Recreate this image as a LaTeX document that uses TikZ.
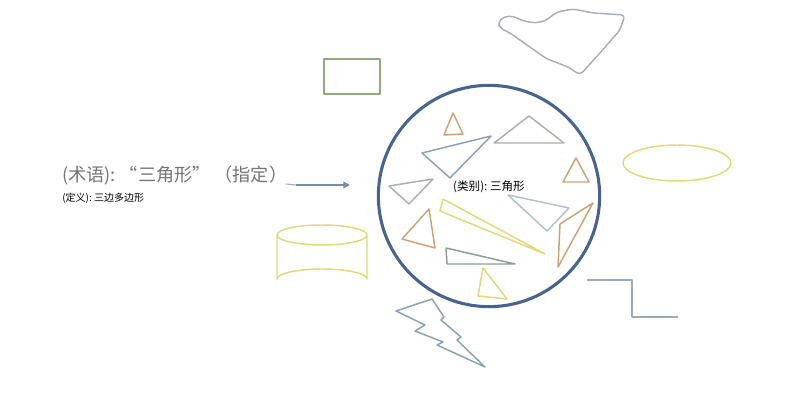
\documentclass[tikz,border=0pt]{standalone}
\usepackage{fontspec}
\newfontfamily\cjk{Noto Sans CJK SC}
\usetikzlibrary{arrows.meta}
\definecolor{cblue}{HTML}{46648F}
\definecolor{corange}{HTML}{CFA275}
\definecolor{cgray}{HTML}{AAAFB4}
\definecolor{cbgray}{HTML}{88A3B1}
\definecolor{cyellow}{HTML}{E6D77A}
\definecolor{cgreen}{HTML}{8FAB7A}
\definecolor{cgreengray}{HTML}{86A191}
\definecolor{cstep}{HTML}{97ABB9}
\definecolor{ctext}{HTML}{747474}
\tikzset{
  shp/.style={line width=1.1pt, line join=round},
  lbl/.style={font=\cjk, inner sep=0pt, anchor=west},
}
\begin{document}
\begin{tikzpicture}[x=0.75pt,y=-0.75pt]
\useasboundingbox[fill=white] (0,0) rectangle (800,402);
% labels
\node[lbl, text=ctext, font=\cjk\fontsize{13.6}{16}\selectfont] (term) at (62,176) {(术语):~“三角形”~（指定）};
\node[lbl, font=\cjk\fontsize{7.5}{9}\selectfont] (def) at (62,198) {(定义):~三边多边形};
\coordinate (arrowend) at (350,185);
\draw[line width=0.8pt, cgray] (term.east |- arrowend) ++(-2,-1) -- ++(11,1);
\draw[line width=1.1pt, cbgray!70!cblue, -{Triangle[length=5pt,width=5pt]}] (term.east |- arrowend) ++(9,0) -- (arrowend);
% green rectangle
\node[shp, draw=cgreen, minimum width=42pt, minimum height=26pt, inner sep=0pt] (rect) at (352,76.5) {};
% big circle
\node[draw=cblue, line width=2.3pt, circle, minimum size=166pt, inner sep=0pt] (cat) at (489,196) {};
\node[font=\cjk\fontsize{8.7}{10}\selectfont, inner sep=0pt] (catlbl) at (489,187) {(类别):~三角形};
% triangles
\draw[shp, corange] (453,113) -- (444,135) -- (463,134) -- cycle;
\draw[shp, cgray] (529,116) -- (494,143) -- (564,143) -- cycle;
\draw[shp, cbgray] (422,153) -- (491,136) -- (450,178) -- cycle;
\draw[shp, corange] (576,158) -- (563,182) -- (589,182) -- cycle;
\draw[shp, cgray] (389,186) -- (433,179) -- (409,204) -- cycle;
\draw[shp, cbgray!80!cblue!60] (508,195) -- (569,208) -- (547,231) -- cycle;
\draw[shp, cyellow] (443,199) -- (440,211) -- (545,254) -- cycle;
\draw[shp, corange] (429,209) -- (402,239) -- (435,248) -- cycle;
\draw[shp, corange] (593,203) -- (560,224) -- (558,267) -- cycle;
\draw[shp, cgreengray] (446,248) -- (447,264) -- (515,264) -- cycle;
\draw[shp, cyellow] (483,268) -- (478,296) -- (507,299) -- cycle;
% ellipse right
\draw[shp, cyellow] (677,163) ellipse [x radius=54, y radius=18];
% cylinder
\draw[shp, cyellow] (322,235) ellipse [x radius=45, y radius=10];
\draw[shp, cyellow] (277,235) -- (277,279) arc[start angle=180, end angle=360, x radius=45, y radius=10] -- (367,235);
% step line
\draw[shp, cstep] (587,280) -- (632,280) -- (632,317) -- (678,317);
% lightning
\draw[shp, cbgray] (396,311) -- (432,299) -- (444,317) -- (441,320) -- (461,337) -- (457,340) -- (485,367) -- (437,345) -- (443,342) -- (415,331) -- (425,325) -- cycle;
% blob
\draw[shp, cgray, rounded corners=3pt] (498,23) -- (503,17) -- (513,16) -- (523,21) -- (535,23) -- (545,21) -- (557,12) -- (573,9) -- (593,13) -- (625,15) -- (620,30) -- (600,53) -- (580,75) -- (570,68) -- (558,63) -- (547,59) -- (527,45) -- (510,33) -- (500,28) -- cycle;
\end{tikzpicture}
\end{document}
